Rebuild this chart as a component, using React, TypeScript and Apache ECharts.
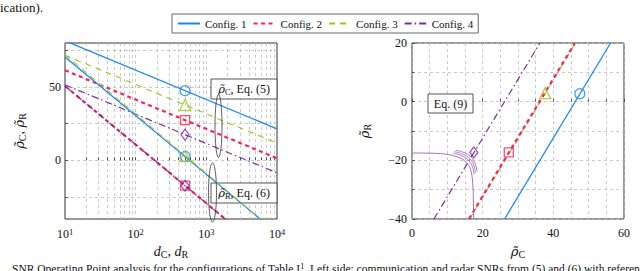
import React, { useEffect, useRef } from 'react';
import * as echarts from 'echarts';

const FONT = '"Liberation Serif", "DejaVu Serif", serif';
const GREEK = '"DejaVu Serif", serif';
const RHO = 'ρ\u0303';

// ---------- series meta ----------
const configNames = ['Config. 1', 'Config. 2', 'Config. 3', 'Config. 4'];
const configColors = ['#1a85ff', '#ff1f5a', '#9cc41c', '#7a2f9e'];
const configSymbols = ['circle', 'rect', 'triangle', 'diamond'];
const configSymbolSizes: any[] = [10, 9, 11, [8, 11]];
const configLineWidths = [1.3, 2.2, 1.1, 1.2];
const configDash: any[] = ['solid', [4, 3.5], [6, 5], [7, 3, 1.5, 3]];
const drawOrder = [0, 2, 1, 3];

// ---------- left plot: SNR (dB) vs distance ----------
const distanceEnds = [10, 10000];
const rhoC1 = [81.5, 21.5];
const rhoC2 = [61.4, 1.4];
const rhoC3 = [71.7, 11.7];
const rhoC4 = [51.5, -8.5];
const rhoR1 = [70.5, -49.5];
const rhoR2 = [50.7, -69.3];
const rhoR3 = [72.0, -49.5];
const rhoR4 = [50.7, -69.3];
const rhoCLines = [rhoC1, rhoC2, rhoC3, rhoC4];
const rhoRLines = [rhoR1, rhoR2, rhoR3, rhoR4];

// operating points
const operatingDistance = 500;
const operatingRhoC = [47.5, 27.4, 37.7, 17.5];
const operatingRhoR = [2.7, -17.3, 2.9, -17.3];

// ---------- right plot: rhoR vs rhoC (Eq. 9) ----------
const tradeoffRhoR = [-40, 20];
const tradeoffRhoC1 = [26.2, 56.2];
const tradeoffRhoC2 = [16.1, 46.1];
const tradeoffRhoC3 = [16.3, 46.3];
const tradeoffRhoC4 = [6.2, 36.2];
const tradeoffRhoC = [tradeoffRhoC1, tradeoffRhoC2, tradeoffRhoC3, tradeoffRhoC4];

const eq9RhoC = [0, 4, 8, 11, 13, 14.4, 15.4, 16.1, 16.6, 17.0, 17.2, 17.35, 17.45];
const eq9RhoR = [-17.5, -17.55, -17.7, -18.2, -18.9, -19.7, -20.7, -21.8, -23.2, -25.5, -28, -32, -40];

const arc1RhoC = [11.6, 13.6, 15.0, 16.0, 16.7, 17.2, 17.6];
const arc1RhoR = [-17.5, -18.2, -19.0, -20.0, -21.1, -22.5, -24.8];
const arc2RhoC = [12.0, 14.0, 15.4, 16.4, 17.1, 17.6, 18.0];
const arc2RhoR = [-17.0, -17.7, -18.5, -19.5, -20.6, -22.0, -24.3];
const arc3RhoC = [12.4, 14.4, 15.8, 16.8, 17.5, 18.0, 18.4];
const arc3RhoR = [-16.5, -17.2, -18.0, -19.0, -20.1, -21.5, -23.8];
const arcsC = [arc1RhoC, arc2RhoC, arc3RhoC];
const arcsR = [arc1RhoR, arc2RhoR, arc3RhoR];

// ---------- ticks ----------
const xLeftGridValues = [20, 30, 40, 50, 60, 70, 80, 90, 100, 200, 300, 400, 500, 600, 700, 800, 900, 1000,
  2000, 3000, 4000, 5000, 6000, 7000, 8000, 9000];
const xLeftLabelValues = [10, 100, 1000, 10000];
const yLeftGridValues = [-25, 0, 25, 50, 75];
const yLeftLabelValues = [0, 50];

const zip = (a: number[], b: number[]) => a.map((v, i) => [v, b[i]]);

const gridLine = { show: true, lineStyle: { color: '#bdbdbd', type: [3, 3], width: 0.8 } };
const tickStyle = { color: '#333', width: 0.8 };
const labelBase = { color: '#111', fontFamily: FONT, fontSize: 12 };
const nameRich = {
  g: { fontFamily: GREEK, fontStyle: 'italic', fontSize: 13, lineHeight: 16, color: '#111' },
  i: { fontFamily: FONT, fontStyle: 'italic', fontSize: 14, lineHeight: 16, color: '#111' },
  n: { fontFamily: FONT, fontSize: 14, lineHeight: 16, color: '#111' },
  s: { fontFamily: FONT, fontSize: 10, lineHeight: 8, verticalAlign: 'bottom', color: '#111' },
};
const boxRich = {
  g: { fontFamily: GREEK, fontStyle: 'italic', fontSize: 11.5, lineHeight: 14, color: '#111' },
  n: { fontFamily: FONT, fontSize: 12, lineHeight: 14, color: '#111' },
  s: { fontFamily: FONT, fontSize: 8.5, lineHeight: 7, verticalAlign: 'bottom', color: '#111' },
};
const minus = (v: number) => (v < 0 ? '\u2212' + String(-v) : String(v));

function buildOption() {
  const series: any[] = [];
  const lineStyleOf = (i: number) => ({ color: configColors[i], width: configLineWidths[i], type: configDash[i] });

  // left plot lines
  drawOrder.forEach((i) => {
    series.push({
      name: configNames[i], type: 'line', xAxisIndex: 0, yAxisIndex: 0, symbol: 'none', showSymbol: false,
      data: zip(distanceEnds, rhoCLines[i]), lineStyle: lineStyleOf(i), itemStyle: { color: configColors[i] }, z: 3,
    });
  });
  drawOrder.forEach((i) => {
    series.push({
      name: configNames[i], type: 'line', xAxisIndex: 0, yAxisIndex: 0, symbol: 'none', showSymbol: false,
      data: zip(distanceEnds, rhoRLines[i]), lineStyle: lineStyleOf(i), itemStyle: { color: configColors[i] }, z: 3,
    });
  });
  // right plot lines
  drawOrder.forEach((i) => {
    series.push({
      name: configNames[i], type: 'line', xAxisIndex: 1, yAxisIndex: 1, symbol: 'none', showSymbol: false,
      data: zip(tradeoffRhoC[i], tradeoffRhoR), lineStyle: lineStyleOf(i), itemStyle: { color: configColors[i] }, z: 3,
    });
  });
  // Eq. 9 curve and level arcs
  series.push({
    name: 'eq9', type: 'line', xAxisIndex: 1, yAxisIndex: 1, symbol: 'none', smooth: 0.4,
    data: zip(eq9RhoC, eq9RhoR), lineStyle: { color: '#a46cc4', width: 1 }, z: 3,
  });
  arcsC.forEach((c, k) => {
    series.push({
      name: 'arc' + k, type: 'line', xAxisIndex: 1, yAxisIndex: 1, symbol: 'none', smooth: 0.4,
      data: zip(c, arcsR[k]), lineStyle: { color: '#a46cc4', width: 0.9 }, z: 3,
    });
  });
  // markers
  [0, 2, 1, 3].forEach((i) => {
    const marker = {
      type: 'scatter', name: 'op' + i, symbol: configSymbols[i], symbolSize: configSymbolSizes[i],
      itemStyle: { color: 'rgba(255,255,255,0)', borderColor: configColors[i], borderWidth: 1.3 }, z: 5,
    };
    series.push({ ...marker, xAxisIndex: 0, yAxisIndex: 0,
      data: [[operatingDistance, operatingRhoC[i]], [operatingDistance, operatingRhoR[i]]] });
    series.push({ ...marker, xAxisIndex: 1, yAxisIndex: 1, data: [[operatingRhoC[i], operatingRhoR[i]]] });
  });

  const boxText = (x: number, y: number, text: string) => ({
    type: 'text', x, y, z: 20,
    style: { text, rich: boxRich, align: 'center', verticalAlign: 'middle', fill: '#111', fontFamily: FONT, fontSize: 12 },
  });
  const box = (x: number, y: number, w: number, h: number) => ({
    type: 'rect', z: 1, shape: { x, y, width: w, height: h },
    style: { fill: 'rgba(255,255,255,0.92)', stroke: '#444', lineWidth: 0.9 },
  });

  return {
    animation: false,
    backgroundColor: '#fff',
    textStyle: { fontFamily: FONT },
    legend: {
      data: configNames, left: 172, top: 14, itemWidth: 22, itemHeight: 10, itemGap: 6,
      padding: [4, 5], borderColor: '#666', borderWidth: 1, selectedMode: false,
      itemStyle: { color: 'rgba(0,0,0,0)', borderWidth: 0, opacity: 0 },
      textStyle: { fontFamily: FONT, fontSize: 11, color: '#111' },
    },
    grid: [
      { left: 65, top: 43, width: 212, height: 176, show: true, borderColor: '#333', borderWidth: 1, backgroundColor: 'transparent' },
      { left: 412, top: 43, width: 212, height: 176, show: true, borderColor: '#333', borderWidth: 1, backgroundColor: 'transparent' },
    ],
    xAxis: [
      {
        gridIndex: 0, type: 'log', logBase: 10, min: 10, max: 10000,
        axisLine: { show: false },
        axisTick: { show: true, inside: true, length: 3, customValues: xLeftGridValues, lineStyle: tickStyle },
        minorTick: { show: false },
        axisLabel: {
          customValues: xLeftLabelValues, margin: 8, ...labelBase,
          formatter: (v: number) => `{b|10}{e|${Math.round(Math.log10(v))}}`,
          rich: {
            b: { fontFamily: FONT, fontSize: 12, color: '#111', lineHeight: 14 },
            e: { fontFamily: FONT, fontSize: 8.5, color: '#111', lineHeight: 7, verticalAlign: 'top' },
          },
        },
        splitLine: gridLine,
        name: '{i|d}{s|C}{n|, }{i|d}{s|R}', nameLocation: 'middle', nameGap: 24,
        nameTextStyle: { rich: nameRich, fontFamily: FONT, fontSize: 14 },
      },
      {
        gridIndex: 1, type: 'value', min: 0, max: 60, interval: 20,
        axisLine: { show: false },
        axisTick: { show: true, inside: true, length: 3, lineStyle: tickStyle },
        minorTick: { show: true, splitNumber: 4, length: 2.5, lineStyle: tickStyle },
        axisLabel: { ...labelBase, margin: 8, formatter: minus },
        splitLine: gridLine, minorSplitLine: gridLine,
        name: `{g|${RHO}}{s|C}`, nameLocation: 'middle', nameGap: 24,
        nameTextStyle: { rich: nameRich, fontFamily: FONT, fontSize: 14 },
      },
    ],
    yAxis: [
      {
        gridIndex: 0, type: 'value', min: -40, max: 80,
        axisLine: { show: false },
        axisTick: { show: true, inside: true, length: 3, customValues: yLeftGridValues, lineStyle: tickStyle },
        axisLabel: { ...labelBase, margin: 4, customValues: yLeftLabelValues, formatter: minus },
        splitLine: gridLine,
        name: `{g|${RHO}}{s|C}{n|, }{g|${RHO}}{s|R}`, nameLocation: 'middle', nameGap: 38, nameRotate: 90,
        nameTextStyle: { rich: nameRich, fontFamily: FONT, fontSize: 14 },
      },
      {
        gridIndex: 1, type: 'value', min: -40, max: 20, interval: 20,
        axisLine: { show: false },
        axisTick: { show: true, inside: true, length: 3, lineStyle: tickStyle },
        minorTick: { show: true, splitNumber: 2, length: 2.5, lineStyle: tickStyle },
        axisLabel: { ...labelBase, margin: 5, formatter: minus },
        splitLine: gridLine, minorSplitLine: gridLine,
        name: `{g|${RHO}}{s|R}`, nameLocation: 'middle', nameGap: 40, nameRotate: 90,
        nameTextStyle: { rich: nameRich, fontFamily: FONT, fontSize: 14 },
      },
    ],
    graphic: [
      { type: 'text', x: 0, y: 1, z: 20, style: { text: 'ication).', fontFamily: FONT, fontSize: 13, fill: '#111' } },
      {
        type: 'text', x: 12, y: 262, z: 20,
        style: {
          text: '{t|SNR Operating Point analysis for the configurations of Table I}{p|1}{t|. Left side: communication and radar SNRs from (5) and (6) with reference}',
          rich: {
            t: { fontFamily: FONT, fontSize: 11.5, color: '#111', lineHeight: 14 },
            p: { fontFamily: FONT, fontSize: 8, color: '#111', lineHeight: 8, verticalAlign: 'top' },
          },
          fill: '#111',
        },
      },
      box(211, 79, 66, 20),
      box(211, 183, 66, 20),
      box(428, 94, 45, 19),
      boxText(244, 89, `{g|${RHO}}{s|C}{n|, Eq. (5)}`),
      boxText(244, 193, `{g|${RHO}}{s|R}{n|, Eq. (6)}`),
      boxText(450.5, 103.5, '{n|Eq. (9)}'),
      { type: 'ellipse', z: 20, shape: { cx: 218.5, cy: 126, rx: 3.5, ry: 31.5 }, style: { fill: 'none', stroke: '#333', lineWidth: 0.8 } },
      { type: 'ellipse', z: 20, shape: { cx: 212.5, cy: 192.5, rx: 4, ry: 29.5 }, style: { fill: 'none', stroke: '#333', lineWidth: 0.8 } },
    ],
    series,
  };
}

export default function App() {
  const ref = useRef<HTMLDivElement>(null);
  useEffect(() => {
    const chart = echarts.init(ref.current as HTMLDivElement, null, { renderer: 'svg' });
    chart.setOption(buildOption() as any);
    return () => chart.dispose();
  }, []);
  return (
    <div
      ref={ref}
      style={{ position: 'fixed', left: 0, top: 0, width: 640, height: 271, background: '#fff' }}
    />
  );
}
